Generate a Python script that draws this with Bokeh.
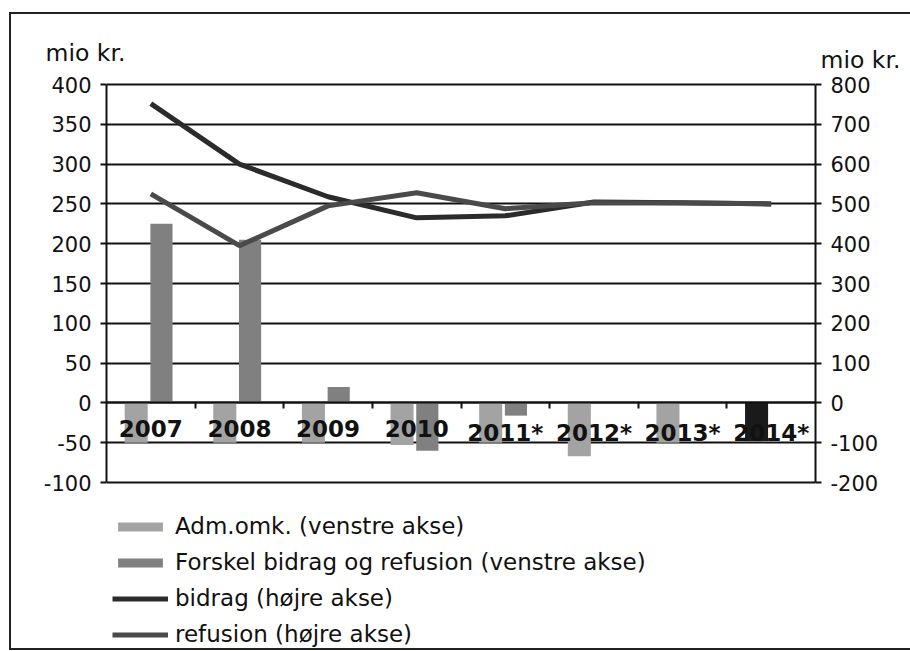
from bokeh.plotting import figure
from bokeh.layouts import column
from bokeh.models import (Range1d, LinearAxis, FixedTicker, ColumnDataSource,
                          Legend, LegendItem)
from bokeh.core.properties import value
from bokeh.embed import file_html
from bokeh.resources import INLINE

# ---- data ----
years = ["2007", "2008", "2009", "2010", "2011*", "2012*", "2013*", "2014*"]
adm_omk = [-50, -50, -50, -53, -50, -67, -50, -48]          # left axis
forskel = [225, 205, 20, -60, -16, 0, 0, 0]                 # left axis
bidrag = [752, 600, 518, 465, 470, 505, 503, 500]           # right axis
refusion = [525, 395, 495, 528, 488, 503, 502, 500]         # right axis
left_ticks = [-100, -50, 0, 50, 100, 150, 200, 250, 300, 350, 400]
right_ticks = [-200, -100, 0, 100, 200, 300, 400, 500, 600, 700, 800]
unit_label = "mio kr."

n = len(years)
centers = [i + 0.5 for i in range(n)]
adm_colors = ["#a3a3a3"] * (n - 1) + ["#1a1a1a"]

src = ColumnDataSource(dict(
    xc=centers, xa=[c - 0.165 for c in centers], xf=[c + 0.12 for c in centers],
    adm=adm_omk, forskel=forskel, bidrag=bidrag, refusion=refusion,
    admc=adm_colors, yr=years, zero=[0] * n,
))

FONT = "DejaVu Sans"
INK = "#111111"
FW = 709                     # px width of the plotting area
PX = FW / n                  # px per category
LEFT = 95                    # px from figure edge to plotting area
TOTAL_W = 899
STRIP_H = 60
TOP_PAD = 8
FH = 566                     # frame height (chart + legend area)
K = 398 / (left_ticks[-1] - left_ticks[0])     # px per left-axis unit
Y_HI = left_ticks[-1] + 2 / K
Y_LO = left_ticks[0] - (FH - 2 - 398) / K
RATIO = right_ticks[-1] / left_ticks[-1]

# ---- top strip with the two unit labels ----
top = figure(width=TOTAL_W, height=STRIP_H, min_border=0, title=None,
             x_range=Range1d(-LEFT / PX, (TOTAL_W - LEFT) / PX),
             y_range=Range1d(0, STRIP_H),
             x_axis_type=None, y_axis_type=None,
             output_backend="svg", toolbar_location=None, tools="")
top.frame_align = False
top.outline_line_color = None
top.grid.visible = False
top.text(x=[-61 / PX, 714 / PX], y=[22, 15], text=[unit_label, unit_label],
         text_font=value(FONT), text_font_size="23.5px", text_color=INK,
         text_baseline="middle", text_align="left")

# ---- main chart ----
p = figure(frame_width=FW, frame_height=FH, title=None,
           min_border_left=LEFT, min_border_right=TOTAL_W - LEFT - FW,
           min_border_top=TOP_PAD, min_border_bottom=0,
           x_range=Range1d(0, n), y_range=Range1d(Y_LO, Y_HI),
           x_axis_location="above",
           output_backend="svg", toolbar_location=None, tools="")
p.frame_align = False
p.extra_y_ranges = {"right": Range1d(Y_LO * RATIO, Y_HI * RATIO)}
p.background_fill_color = "white"
p.border_fill_color = "white"
p.outline_line_color = None

p.xgrid.visible = False
p.ygrid.ticker = FixedTicker(ticks=left_ticks)
p.ygrid.grid_line_color = INK
p.ygrid.grid_line_width = 2
p.ygrid.bounds = (0, n)


def style_y(axis, standoff):
    axis.axis_line_color = INK
    axis.axis_line_width = 2
    axis.major_tick_out = 6
    axis.major_tick_in = 0
    axis.major_tick_line_width = 2
    axis.major_tick_line_color = INK
    axis.minor_tick_line_color = None
    axis.major_label_text_font = FONT
    axis.major_label_text_font_size = "21px"
    axis.major_label_text_color = INK
    axis.major_label_standoff = standoff


lax = p.yaxis[0]
lax.ticker = FixedTicker(ticks=left_ticks)
lax.bounds = (left_ticks[0], left_ticks[-1])
lax.major_label_overrides = {t: str(t) for t in left_ticks}
style_y(lax, 9)

rax = LinearAxis(y_range_name="right", ticker=FixedTicker(ticks=right_ticks))
rax.bounds = (right_ticks[0], right_ticks[-1])
rax.major_label_overrides = {t: str(t) for t in right_ticks}
style_y(rax, 9)
p.add_layout(rax, "right")

# category axis drawn on the zero line, ticks between categories (pointing down)
xax = p.xaxis[0]
xax.ticker = FixedTicker(ticks=list(range(1, n)))
xax.fixed_location = 0
xax.axis_line_color = INK
xax.axis_line_width = 2
xax.major_tick_out = 0
xax.major_tick_in = 6
xax.major_tick_line_width = 2
xax.major_tick_line_color = INK
xax.minor_tick_line_color = None
xax.major_label_text_font_size = "0px"
xax.major_label_text_color = None
xax.major_label_standoff = 0

# bars
r_adm = p.vbar(x="xa", top="adm", bottom=0, width=0.26, source=src,
               fill_color="admc", line_color=None)
r_fors = p.vbar(x="xf", top="forskel", bottom=0, width=0.25, source=src,
                fill_color="#808080", line_color=None)

# lines (right axis)
r_bid = p.line(x="xc", y="bidrag", source=src, y_range_name="right",
               line_color="#2b2b2b", line_width=5)
r_ref = p.line(x="xc", y="refusion", source=src, y_range_name="right",
               line_color="#4a4a4a", line_width=5)

# category labels just under the zero line
p.text(x="xc", y="zero", text="yr", source=src, y_offset=17,
       text_font=value(FONT), text_font_style="bold", text_font_size="23px",
       text_color=INK, text_align="center", text_baseline="top")

legend = Legend(items=[
    LegendItem(label="Adm.omk. (venstre akse)", renderers=[r_adm]),
    LegendItem(label="Forskel bidrag og refusion (venstre akse)", renderers=[r_fors]),
    LegendItem(label="bidrag (højre akse)", renderers=[r_bid]),
    LegendItem(label="refusion (højre akse)", renderers=[r_ref]),
], location=(6, 0))
legend.background_fill_color = None
legend.border_line_color = None
legend.padding = 0
legend.margin = 0
legend.spacing = 8
legend.glyph_width = 56
legend.glyph_height = 11
legend.label_height = 28
legend.label_standoff = 7
legend.label_text_font = FONT
legend.label_text_font_size = "23px"
legend.label_text_color = INK
p.add_layout(legend, "center")

layout = column(top, p, spacing=0, styles={
    "margin-left": "9px", "margin-top": "12px",
    "border-left": "2px solid #222222", "border-top": "2px solid #222222",
    "border-bottom": "2px solid #222222",
})

open("out.html", "w").write(file_html(layout, INLINE))
